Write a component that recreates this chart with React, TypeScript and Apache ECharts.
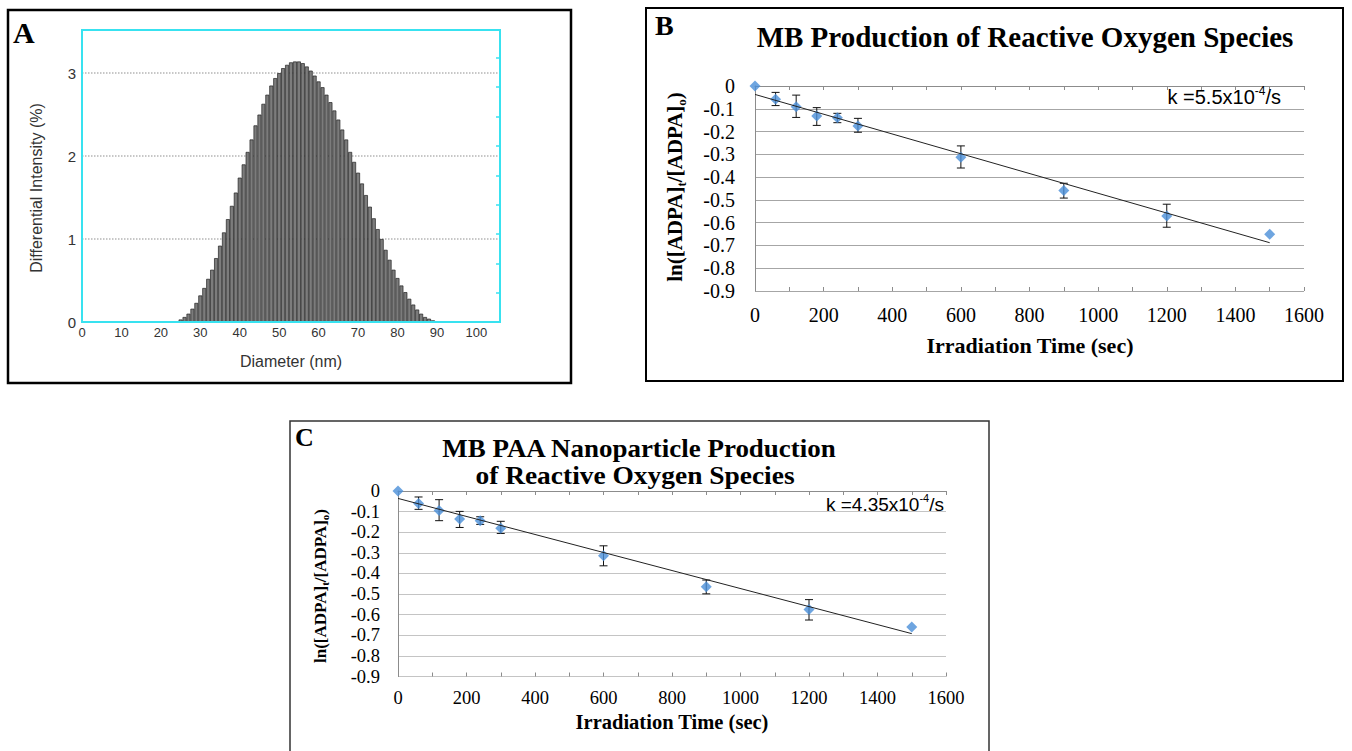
import { useEffect, useRef } from 'react';
import * as echarts from 'echarts';

// ---------- Panel A : size distribution ----------
const diameters = [24, 25, 26, 27, 28, 29, 30, 31, 32, 33, 34, 35, 36, 37, 38, 39, 40, 41, 42, 43, 44, 45, 46, 47, 48, 49, 50, 51, 52, 53, 54, 55, 56, 57, 58, 59, 60, 61, 62, 63, 64, 65, 66, 67, 68, 69, 70, 71, 72, 73, 74, 75, 76, 77, 78, 79, 80, 81, 82, 83, 84, 85, 86, 87, 88, 89, 90];
const intensity = [0.01, 0.03, 0.06, 0.10, 0.16, 0.23, 0.32, 0.41, 0.52, 0.63, 0.77, 0.92, 1.08, 1.24, 1.40, 1.56, 1.74, 1.90, 2.05, 2.20, 2.37, 2.50, 2.63, 2.74, 2.85, 2.94, 3.00, 3.06, 3.10, 3.13, 3.14, 3.14, 3.12, 3.08, 3.03, 2.97, 2.90, 2.83, 2.74, 2.65, 2.55, 2.44, 2.32, 2.20, 2.05, 1.93, 1.80, 1.67, 1.53, 1.39, 1.25, 1.12, 1.00, 0.87, 0.75, 0.63, 0.53, 0.44, 0.36, 0.28, 0.21, 0.15, 0.10, 0.06, 0.04, 0.02, 0.01];

// ---------- Panels B and C : ROS production ----------
const times = [0, 60, 120, 180, 240, 300, 600, 900, 1200, 1500];

const valuesB = [0, -0.058, -0.091, -0.132, -0.139, -0.176, -0.313, -0.459, -0.571, -0.651];
const errTopB = [null, -0.028, -0.040, -0.095, -0.120, -0.142, -0.263, -0.427, -0.519, null];
const errBotB = [null, -0.086, -0.138, -0.173, -0.161, -0.203, -0.360, -0.492, -0.620, null];
const trendB = [[0, -0.037], [1500, -0.688]];

const valuesC = [0, -0.061, -0.095, -0.136, -0.144, -0.181, -0.314, -0.465, -0.575, -0.660];
const errTopC = [null, -0.029, -0.042, -0.099, -0.125, -0.147, -0.266, -0.432, -0.527, null];
const errBotC = [null, -0.089, -0.144, -0.177, -0.162, -0.206, -0.363, -0.499, -0.626, null];
const trendC = [[0, -0.036], [1500, -0.692]];

const SERIF = 'Liberation Serif, serif';
const SANS = 'Liberation Sans, Arial, sans-serif';
const CYAN = '#38e2f0';
const BLUE = '#4a8fd8';

function errorBars(xi: number, yi: number, top: (number | null)[], bot: (number | null)[]) {
  const data: number[][] = [];
  times.forEach((t, i) => {
    if (top[i] != null && bot[i] != null) data.push([t, bot[i] as number, top[i] as number]);
  });
  return {
    type: 'custom',
    xAxisIndex: xi,
    yAxisIndex: yi,
    data,
    encode: { x: 0, y: [1, 2] },
    z: 3,
    silent: true,
    renderItem: (_p: any, api: any) => {
      const x = api.value(0);
      const lo = api.coord([x, api.value(1)]);
      const hi = api.coord([x, api.value(2)]);
      const cap = 4;
      const style = { stroke: '#111', lineWidth: 1 };
      return {
        type: 'group',
        children: [
          { type: 'line', shape: { x1: lo[0], y1: lo[1], x2: hi[0], y2: hi[1] }, style },
          { type: 'line', shape: { x1: lo[0] - cap, y1: lo[1], x2: lo[0] + cap, y2: lo[1] }, style },
          { type: 'line', shape: { x1: hi[0] - cap, y1: hi[1], x2: hi[0] + cap, y2: hi[1] }, style },
        ],
      };
    },
  };
}

function rosAxes(gi: number, labelSize: number, xMargin: number, yMargin: number, gridColor: string) {
  const xMain = {
    type: 'value', gridIndex: gi, min: 0, max: 1600, interval: 100,
    axisLine: { show: true, lineStyle: { color: '#8c8c8c', width: 1 } },
    axisTick: { show: true, length: 4, lineStyle: { color: '#8c8c8c' } },
    axisLabel: {
      margin: xMargin, fontFamily: SERIF, fontSize: labelSize, color: '#000',
      formatter: (v: number) => (v % 200 === 0 ? String(v) : ''),
    },
    splitLine: { show: false },
  };
  const xInner = {
    type: 'value', gridIndex: gi, min: 0, max: 1600, interval: 100, position: 'bottom',
    axisLine: { show: false },
    axisTick: { show: true, inside: true, length: 4, lineStyle: { color: '#8c8c8c' } },
    axisLabel: { show: false },
    splitLine: { show: false },
  };
  const y = {
    type: 'value', gridIndex: gi, min: -0.9, max: 0, interval: 0.1,
    axisLine: { show: true, lineStyle: { color: '#8c8c8c', width: 1 } },
    axisTick: { show: false },
    axisLabel: {
      margin: yMargin, fontFamily: SERIF, fontSize: labelSize, color: '#000',
      formatter: (v: number) => (Math.abs(v) < 1e-9 ? '0' : v.toFixed(1)),
    },
    splitLine: { show: true, lineStyle: { color: gridColor, width: 1 } },
  };
  return { xMain, xInner, y };
}

function rosSeries(xi: number, yi: number, vals: number[], top: (number | null)[], bot: (number | null)[], trend: number[][]) {
  return [
    errorBars(xi, yi, top, bot),
    {
      type: 'scatter', xAxisIndex: xi, yAxisIndex: yi,
      data: times.map((t, i) => [t, vals[i]]),
      symbol: 'diamond', symbolSize: 11,
      itemStyle: { color: BLUE }, z: 4, silent: true,
    },
    {
      type: 'line', xAxisIndex: xi, yAxisIndex: yi,
      data: trend, symbol: 'none', silent: true,
      lineStyle: { color: '#222', width: 1 }, z: 5,
    },
  ];
}

function txt(x: number, y: number, text: string, size: number, opts: any = {}) {
  const align = opts.align || 'center';
  return {
    type: 'text', x, y, rotation: opts.rotation || 0, scaleX: opts.scaleX || 1, z: 120, silent: true,
    style: {
      text, fontSize: size, fontFamily: opts.family || SERIF, fontWeight: opts.weight || 'normal',
      fill: opts.color || '#000', align, textAlign: align,
      verticalAlign: 'middle', textVerticalAlign: 'middle',
      rich: opts.rich,
    },
  };
}

export default function App() {
  const ref = useRef<HTMLDivElement>(null);

  useEffect(() => {
    if (!ref.current) return;
    const chart = echarts.init(ref.current, null, { renderer: 'svg' });

    const axB = rosAxes(1, 20, 14, 20, '#a6a6a6');
    const axC = rosAxes(2, 18.5, 12, 18, '#c4c4c4');

    const subRich = (base: number, sub: number) => ({
      sub: { fontSize: sub, fontFamily: SERIF, fontWeight: 'bold', verticalAlign: 'bottom', lineHeight: sub, padding: [0, 0, 0, 0] },
      b: { fontSize: base, fontFamily: SERIF, fontWeight: 'bold', lineHeight: base + 4 },
    });
    const supRich = (base: number, sup: number) => ({
      n: { fontSize: base, fontFamily: SANS, color: '#111', lineHeight: base + 4 },
      sup: { fontSize: sup, fontFamily: SANS, color: '#111', verticalAlign: 'top', lineHeight: sup },
    });

    const option: any = {
      animation: false,
      backgroundColor: '#fff',
      textStyle: { fontFamily: SERIF },
      grid: [
        { left: 82, top: 30, width: 418, height: 292 },
        { left: 755, top: 86, width: 549, height: 205 },
        { left: 398, top: 491, width: 548, height: 185.5 },
      ],
      xAxis: [
        {
          type: 'value', gridIndex: 0, min: 0, max: 106, interval: 10,
          axisLine: { show: false }, axisTick: { show: false },
          axisLabel: {
            margin: 4, fontFamily: SANS, fontSize: 13, color: '#333',
            formatter: (v: number) => (v > 100 ? '' : String(v)),
          },
          splitLine: { show: false },
        },
        axB.xMain, axB.xInner, axC.xMain, axC.xInner,
      ],
      yAxis: [
        {
          type: 'value', gridIndex: 0, min: 0, max: 3.52, interval: 1,
          axisLine: { show: false }, axisTick: { show: false },
          axisLabel: {
            margin: 6, fontFamily: SANS, fontSize: 15, color: '#333',
            formatter: (v: number) => (v > 3 ? '' : String(v)),
          },
          splitLine: { show: true, lineStyle: { color: '#b5b5b5', type: 'dotted', width: 1.5 } },
        },
        {
          type: 'value', gridIndex: 0, min: 0, max: 9.95, interval: 1, position: 'right',
          axisLine: { show: false },
          axisTick: { show: true, inside: true, length: 4, lineStyle: { color: CYAN, width: 1.5 } },
          axisLabel: { show: false },
          splitLine: { show: false },
        },
        axB.y, axC.y,
      ],
      series: [
        {
          type: 'bar', xAxisIndex: 0, yAxisIndex: 0,
          data: diameters.map((d, i) => [d, intensity[i]]),
          barWidth: 3.94, silent: true,
          itemStyle: { color: '#7c7c7c', borderColor: '#222', borderWidth: 0.7 },
        },
        ...rosSeries(1, 2, valuesB, errTopB, errBotB, trendB),
        ...rosSeries(3, 3, valuesC, errTopC, errBotC, trendC),
      ],
      graphic: [
        // panel frames
        { type: 'rect', z: 110, silent: true, shape: { x: 8, y: 10, width: 563, height: 373 }, style: { fill: 'none', stroke: '#000', lineWidth: 2.5 } },
        { type: 'rect', z: 110, silent: true, shape: { x: 82, y: 30, width: 418, height: 292 }, style: { fill: 'none', stroke: CYAN, lineWidth: 2 } },
        { type: 'rect', z: 110, silent: true, shape: { x: 646, y: 8, width: 697, height: 373 }, style: { fill: 'none', stroke: '#000', lineWidth: 2 } },
        { type: 'rect', z: 110, silent: true, shape: { x: 290, y: 421, width: 699, height: 345 }, style: { fill: 'none', stroke: '#333', lineWidth: 1.5 } },

        // panel A texts
        txt(13, 32, 'A', 30, { weight: 'bold', align: 'left' }),
        txt(291, 361, 'Diameter (nm)', 16, { family: SANS, color: '#333' }),
        txt(36, 188, 'Differential Intensity (%)', 16, { family: SANS, color: '#333', rotation: Math.PI / 2 }),

        // panel B texts
        txt(655, 25, 'B', 28, { weight: 'bold', align: 'left' }),
        txt(1025, 37, 'MB Production of Reactive Oxygen Species', 29, { weight: 'bold' }),
        txt(1030, 345, 'Irradiation Time (sec)', 22, { weight: 'bold' }),
        txt(675, 187, '{b|ln([ADPA]}{sub|t}{b|/[ADPA]}{sub|o}{b|)}', 21, { weight: 'bold', rotation: Math.PI / 2, rich: subRich(21, 13) }),
        txt(1281, 97, '{n|k =5.5x10}{sup|-4}{n|/s}', 20, { family: SANS, align: 'right', rich: supRich(20, 12) }),

        // panel C texts
        txt(295, 437, 'C', 26, { weight: 'bold', align: 'left' }),
        txt(639, 449, 'MB PAA Nanoparticle Production', 24.5, { weight: 'bold', scaleX: 1.1 }),
        txt(635, 476, 'of Reactive Oxygen Species', 24.5, { weight: 'bold', scaleX: 1.12 }),
        txt(672, 722, 'Irradiation Time (sec)', 20.5, { weight: 'bold' }),
        txt(320, 586, '{b|ln([ADPA]}{sub|t}{b|/[ADPA]}{sub|o}{b|)}', 17, { weight: 'bold', rotation: Math.PI / 2, rich: subRich(17, 11) }),
        txt(944, 504, '{n|k =4.35x10}{sup|-4}{n|/s}', 19, { family: SANS, align: 'right', rich: supRich(19, 11) }),
      ],
    };

    chart.setOption(option);
    return () => chart.dispose();
  }, []);

  return (
    <div
      ref={ref}
      style={{ position: 'absolute', left: 0, top: 0, width: 1352, height: 751, background: '#fff' }}
    />
  );
}
